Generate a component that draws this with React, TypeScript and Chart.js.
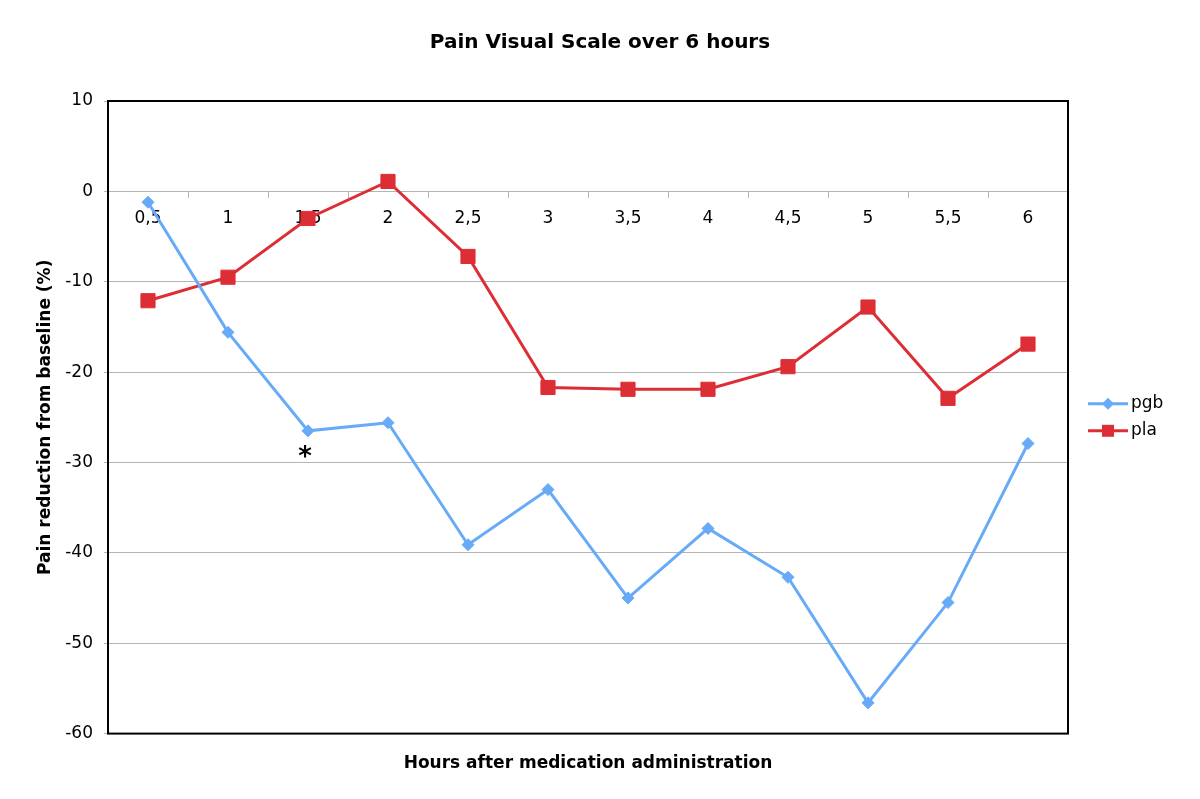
import React, { useEffect, useRef } from "react";
import { Chart, registerables } from "chart.js";

Chart.register(...registerables);

// ---- data ----
const hours = ["0,5", "1", "1,5", "2", "2,5", "3", "3,5", "4", "4,5", "5", "5,5", "6"];
const pgb = [-1.2, -15.6, -26.5, -25.6, -39.1, -33.0, -45.0, -37.3, -42.7, -56.6, -45.5, -27.9];
const pla = [-12.1, -9.5, -3.0, 1.1, -7.2, -21.7, -21.9, -21.9, -19.4, -12.8, -22.9, -16.9];
const seriesNames = ["pgb", "pla"];
const yMin = -60;
const yMax = 10;
const yStep = 10;
const chartTitle = "Pain Visual Scale over 6 hours";
const xTitle = "Hours after medication administration";
const yTitle = "Pain reduction from baseline (%)";
const marks = [{ series: 0, index: 2, text: "*" }];

// ---- styles ----
const FONT = "'DejaVu Sans', Verdana, sans-serif";
const BLUE = "#66AAF8";
const RED = "#DD2E35";
const GRID = "#B4B4B4";

const framePlugin = {
  id: "frame",
  beforeDatasetsDraw(chart: any) {
    const { ctx, chartArea: a } = chart;
    ctx.save();
    ctx.strokeStyle = "#000";
    ctx.lineWidth = 2;
    ctx.strokeRect(a.left, a.top, a.right - a.left, a.bottom - a.top);
    ctx.restore();
  },
};

const marksPlugin = {
  id: "marks",
  afterDatasetsDraw(chart: any) {
    const { ctx } = chart;
    ctx.save();
    ctx.fillStyle = "#000";
    ctx.font = `bold 26px ${FONT}`;
    ctx.textAlign = "center";
    ctx.textBaseline = "alphabetic";
    for (const m of marks) {
      const el = chart.getDatasetMeta(m.series).data[m.index];
      if (!el) continue;
      ctx.fillText(m.text, el.x - 3, el.y + 34);
    }
    ctx.restore();
  },
};

const legendPlugin = {
  id: "sideLegend",
  afterDraw(chart: any) {
    const { ctx, chartArea: a } = chart;
    const cy = (a.top + a.bottom) / 2;
    const x0 = a.right + 20;
    const step = 27;
    const n = chart.data.datasets.length;
    ctx.save();
    chart.data.datasets.forEach((ds: any, i: number) => {
      const y = cy + (i - (n - 1) / 2) * step;
      ctx.strokeStyle = ds.borderColor;
      ctx.lineWidth = 3;
      ctx.beginPath();
      ctx.moveTo(x0, y);
      ctx.lineTo(x0 + 40, y);
      ctx.stroke();
      ctx.fillStyle = ds.pointBackgroundColor;
      const cx = x0 + 20;
      ctx.beginPath();
      if (ds.pointStyle === "rectRot") {
        const r = 6;
        ctx.moveTo(cx, y - r);
        ctx.lineTo(cx + r, y);
        ctx.lineTo(cx, y + r);
        ctx.lineTo(cx - r, y);
        ctx.closePath();
      } else {
        ctx.rect(cx - 6, y - 6, 12, 12);
      }
      ctx.fill();
      ctx.fillStyle = "#000";
      ctx.font = `17px ${FONT}`;
      ctx.textAlign = "left";
      ctx.textBaseline = "middle";
      ctx.fillText(ds.label, x0 + 43, y);
    });
    ctx.restore();
  },
};

export default function App() {
  const ref = useRef<HTMLCanvasElement>(null);

  useEffect(() => {
    document.body.style.margin = "0";
    const canvas = ref.current;
    if (!canvas) return;
    const chart = new Chart(canvas, {
      type: "line",
      data: {
        labels: hours,
        datasets: [
          {
            label: seriesNames[0],
            data: pgb,
            borderColor: BLUE,
            backgroundColor: BLUE,
            pointBackgroundColor: BLUE,
            pointBorderColor: BLUE,
            pointStyle: "rectRot",
            pointRadius: 6,
            pointBorderWidth: 1,
            borderWidth: 3,
            tension: 0,
          },
          {
            label: seriesNames[1],
            data: pla,
            borderColor: RED,
            backgroundColor: RED,
            pointBackgroundColor: RED,
            pointBorderColor: RED,
            pointStyle: "rect",
            pointRadius: 10,
            pointBorderWidth: 1,
            borderWidth: 3,
            tension: 0,
          },
        ],
      },
      options: {
        responsive: false,
        animation: false,
        devicePixelRatio: 1,
        layout: { padding: 0 },
        font: { family: FONT },
        plugins: {
          legend: { display: false },
          tooltip: { enabled: false },
          title: {
            display: true,
            text: chartTitle,
            color: "#000",
            font: { family: FONT, size: 20, weight: "bold" },
            padding: { top: 31, bottom: 46 },
          },
        },
        scales: {
          x: {
            type: "category",
            position: { y: 0 } as any,
            offset: true,
            grid: {
              display: true,
              drawOnChartArea: false,
              drawTicks: true,
              tickLength: 6,
              offset: true,
              color: GRID,
            },
            border: { display: true, color: GRID, width: 1 },
            ticks: {
              color: "#000",
              font: { family: FONT, size: 17 },
              padding: 11,
              maxRotation: 0,
              autoSkip: false,
            },
          },
          x2: {
            type: "category",
            position: "bottom",
            display: true,
            offset: true,
            grid: { display: false },
            border: { display: false },
            ticks: { display: false },
            title: {
              display: true,
              text: xTitle,
              color: "#000",
              font: { family: FONT, size: 17, weight: "bold" },
              padding: { top: 12, bottom: 25 },
            },
          },
          y: {
            type: "linear",
            position: "left",
            min: yMin,
            max: yMax,
            afterFit(scale: any) {
              scale.width = 108;
            },
            ticks: {
              stepSize: yStep,
              color: "#000",
              font: { family: FONT, size: 17 },
              padding: 11,
            },
            grid: {
              color: GRID,
              tickLength: 4,
              drawTicks: true,
            },
            border: { display: false },
            title: {
              display: true,
              text: yTitle,
              color: "#000",
              font: { family: FONT, size: 17, weight: "bold" },
              padding: { top: 35, bottom: 0 },
            },
          },
          yRight: {
            type: "linear",
            position: "right",
            display: true,
            afterFit(scale: any) {
              scale.width = 132;
            },
            grid: { display: false },
            border: { display: false },
            ticks: { display: false },
          },
        },
      },
      plugins: [framePlugin, marksPlugin, legendPlugin],
    });
    return () => chart.destroy();
  }, []);

  return (
    <div style={{ width: 1200, height: 799, background: "#fff" }}>
      <canvas ref={ref} width={1200} height={799} style={{ display: "block" }} />
    </div>
  );
}
